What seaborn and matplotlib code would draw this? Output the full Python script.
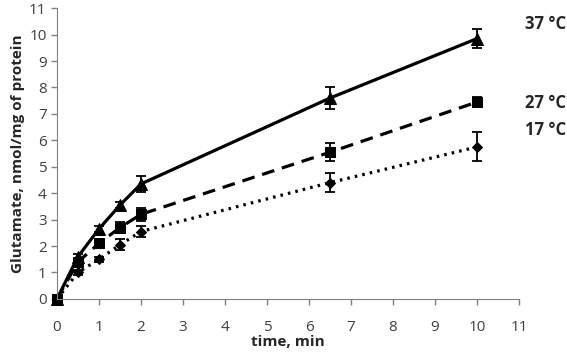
import numpy as np
import pandas as pd
import seaborn as sns
import matplotlib.pyplot as plt

# time points (min) and glutamate uptake per temperature
time_min = [0, 0.5, 1, 1.5, 2, 6.5, 10]
glu_37 = [0, 1.6, 2.65, 3.55, 4.35, 7.6, 9.85]
glu_27 = [0, 1.4, 2.1, 2.7, 3.2, 5.55, 7.45]
glu_17 = [0, 1.0, 1.5, 2.05, 2.55, 4.4, 5.75]
err_37 = [0, 0.1, 0.1, 0.1, 0.3, 0.4, 0.35]
err_27 = [0, 0.1, 0.15, 0.2, 0.25, 0.35, 0.2]
err_17 = [0, 0.1, 0.1, 0.2, 0.2, 0.35, 0.55]
labels = ['37 °C', '27 °C', '17 °C']

sns.set_style('ticks')
plt.rcParams['font.family'] = ['Open Sans', 'DejaVu Sans']

fig = plt.figure(figsize=(5.67, 3.55), dpi=100)
ax = fig.add_axes([0.1005, 0.158, 0.815, 0.819])

series = [
    (glu_37, err_37, '-', '^', 9),
    (glu_27, err_27, (0, (4, 2.5)), 's', 7),
    (glu_17, err_17, (0, (0.8, 1.6)), 'D', 5),
]
for (vals, errs, ls, mk, ms), lab in zip(series, labels):
    df = pd.DataFrame({'time': time_min, 'glu': vals})
    sns.lineplot(data=df, x='time', y='glu', ax=ax, color='black',
                 linestyle=ls, linewidth=2.3, marker=mk, markersize=ms,
                 markeredgecolor='black', legend=False, clip_on=False)
    ax.errorbar(time_min, vals, yerr=errs, fmt='none', ecolor='black',
                elinewidth=1.3, capsize=3.5, capthick=1.3)

ax.text(11.15, 10.4, labels[0], fontsize=12, fontweight='bold', va='center', clip_on=False)
ax.text(11.15, 7.4, labels[1], fontsize=12, fontweight='bold', va='center', clip_on=False)
ax.text(11.15, 6.4, labels[2], fontsize=12, fontweight='bold', va='center', clip_on=False)

ax.set_xlim(0, 11)
ax.set_ylim(0, 11)
ax.set_xticks(range(0, 12))
ax.set_yticks(range(0, 12))
ax.tick_params(axis='both', labelsize=11, labelcolor='#404040', color='#808080',
               length=4, width=1)
ax.tick_params(axis='x', pad=11)
for s in ['left', 'bottom']:
    ax.spines[s].set_color('#808080')
sns.despine(ax=ax)
ax.set_xlabel('time, min', fontsize=11, fontweight='bold', labelpad=0)
ax.set_ylabel('Glutamate, nmol/mg of protein', fontsize=11, fontweight='bold', labelpad=3)

fig.savefig('out.png', dpi=100)
